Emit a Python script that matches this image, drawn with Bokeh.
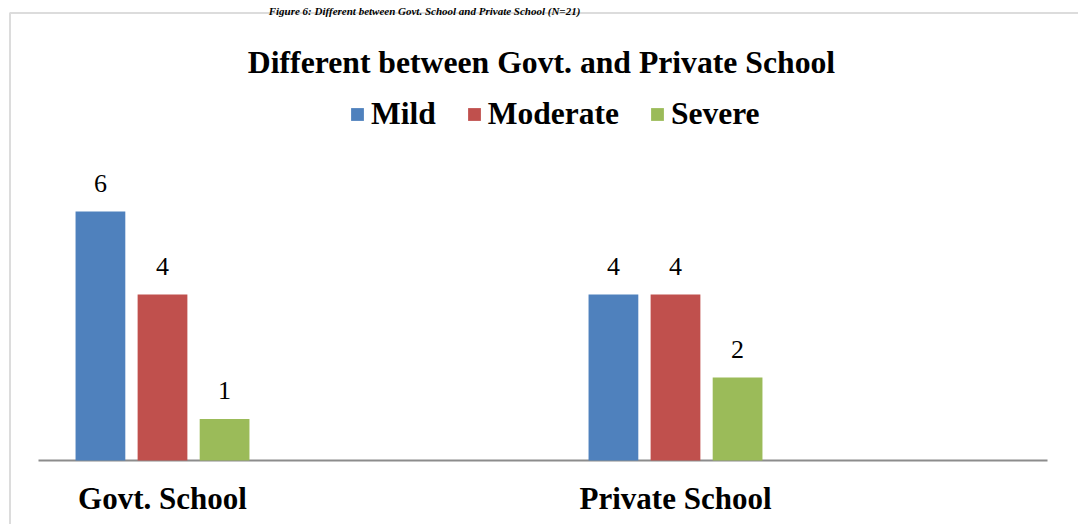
from bokeh.plotting import figure
from bokeh.models import (ColumnDataSource, Range1d, Legend, LegendItem,
                          LabelSet, Label, BoxAnnotation)
from bokeh.transform import dodge
from bokeh.embed import file_html
from bokeh.resources import INLINE

# ---- data ----
categories = ["Govt. School", "Private School"]
series = ["Mild", "Moderate", "Severe"]
mild = [6, 4]
moderate = [4, 4]
severe = [1, 2]
colors = ["#4F81BD", "#C0504D", "#9BBB59"]
caption = "Figure 6: Different between Govt. School and Private School (N=21)"
title = "Different between Govt. and Private School"

W, H = 1078, 524
SERIF = "Liberation Serif"
GRAY = "#8c8c8c"

# pixel geometry of the plot area (canvas pixels from top-left)
X0_PX, CAT_STEP_PX = 162.0, 513.0      # centre of first category, distance between categories
Y0_PX, UNIT_PX = 460.0, 41.5           # baseline, pixels per count
AXIS_L_PX, AXIS_R_PX = 38.0, 1047.0    # extent of the category axis line
BOX_L_PX, BOX_T_PX = 9.5, 12.5         # chart border (runs off the window right/bottom)


def px_x(px):
    return (px - X0_PX) / CAT_STEP_PX


def px_y(py):
    return (Y0_PX - py) / UNIT_PX


xs = list(range(len(categories)))
src = ColumnDataSource(dict(
    x=xs, cat=categories, zero=[0] * len(xs),
    Mild=mild, Moderate=moderate, Severe=severe,
    Mild_t=[str(v) for v in mild],
    Moderate_t=[str(v) for v in moderate],
    Severe_t=[str(v) for v in severe],
))

p = figure(width=W, height=H, output_backend="svg", toolbar_location=None,
           x_range=Range1d(px_x(0), px_x(W)), y_range=Range1d(px_y(H), px_y(0)),
           x_axis_type=None, y_axis_type=None, title_location=None,
           min_border=0)
p.background_fill_color = "white"
p.border_fill_color = "white"
p.outline_line_color = None
p.grid.visible = False

# chart border
p.add_layout(BoxAnnotation(left=px_x(BOX_L_PX), top=px_y(BOX_T_PX),
                           right=px_x(W + 200), bottom=px_y(H + 200),
                           fill_alpha=0, line_color=GRAY, line_width=2))

# category axis line
p.segment(x0=[px_x(AXIS_L_PX)], x1=[px_x(AXIS_R_PX)], y0=[0], y1=[0],
          line_color=GRAY, line_width=2)

offsets = [-0.121, 0.0, 0.121]
bw = 0.097
renderers = []
for name, off, col in zip(series, offsets, colors):
    r = p.vbar(x=dodge("x", off), top=name, width=bw, bottom=0, source=src,
               fill_color=col, line_color=None)
    renderers.append(r)
    p.add_layout(LabelSet(x=dodge("x", off), y=name, text=name + "_t", source=src,
                          y_offset=20, text_align="center", text_baseline="alphabetic",
                          text_font=SERIF, text_font_size="26px", text_color="black"))

# category labels
p.add_layout(LabelSet(x="x", y="zero", text="cat", source=src, y_offset=-48,
                      text_align="center", text_baseline="alphabetic",
                      text_font=SERIF, text_font_size="31px", text_font_style="bold",
                      text_color="black"))

# chart title
p.add_layout(Label(x=541, y=H - 62, x_units="screen", y_units="screen", text=title,
                   text_align="center", text_baseline="alphabetic",
                   text_font=SERIF, text_font_size="31.7px", text_font_style="bold",
                   text_color="black"))

# legend
legend = Legend(items=[LegendItem(label=s, renderers=[r]) for s, r in zip(series, renderers)],
                orientation="horizontal", location=(349, H - 132),
                glyph_width=16, glyph_height=16, label_standoff=6, spacing=30,
                padding=0, margin=0, border_line_color=None, background_fill_alpha=0,
                label_text_font=SERIF, label_text_font_size="31.5px",
                label_text_font_style="bold", label_text_color="black")
p.add_layout(legend)

# figure caption (cropped in the source; kept small so it fits above the border)
p.add_layout(Label(x=424, y=H - 10, x_units="screen", y_units="screen", text=caption,
                   text_align="center", text_baseline="alphabetic",
                   text_font=SERIF, text_font_size="11px", text_font_style="bold italic",
                   text_color="black"))

open("out.html", "w").write(file_html(p, INLINE))
